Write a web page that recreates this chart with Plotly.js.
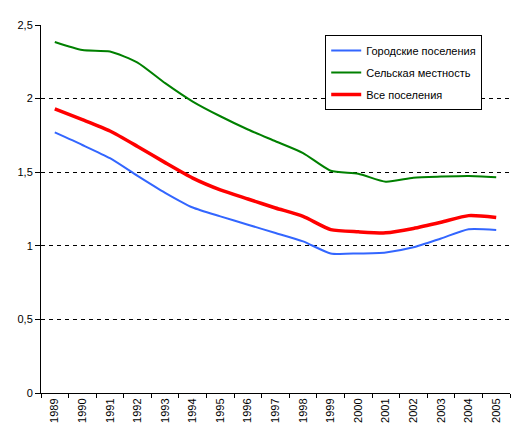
<!DOCTYPE html>
<html>
<head>
<meta charset="utf-8">
<script src="https://cdn.plot.ly/plotly-3.0.1.min.js"></script>
<style>html,body{margin:0;padding:0;background:#fff;}#chart{width:516px;height:432px;}</style>
</head>
<body>
<div id="chart"></div>
<script>
const years = ['1989','1990','1991','1992','1993','1994','1995','1996','1997','1998','1999','2000','2001','2002','2003','2004','2005'];
const urban = [1.77, 1.685, 1.595, 1.475, 1.36, 1.26, 1.20, 1.143, 1.087, 1.03, 0.948, 0.948, 0.955, 0.99, 1.05, 1.112, 1.107];
const rural = [2.385, 2.33, 2.32, 2.245, 2.105, 1.98, 1.88, 1.79, 1.71, 1.63, 1.51, 1.49, 1.435, 1.463, 1.47, 1.474, 1.465];
const total = [1.93, 1.857, 1.78, 1.675, 1.565, 1.46, 1.38, 1.318, 1.257, 1.20, 1.11, 1.095, 1.088, 1.118, 1.16, 1.205, 1.193];
const names = ['Городские поселения', 'Сельская местность', 'Все поселения'];

const traces = [
  {x: years, y: urban, name: names[0], type: 'scatter', mode: 'lines',
   line: {color: '#3366FF', width: 2, shape: 'spline', smoothing: 0.6}, legendgroup: 'a'},
  {x: years, y: rural, name: names[1], type: 'scatter', mode: 'lines',
   line: {color: '#008000', width: 2, shape: 'spline', smoothing: 0.6}, legendgroup: 'b'},
  {x: years, y: total, name: names[2], type: 'scatter', mode: 'lines',
   line: {color: '#FF0000', width: 3.5, shape: 'spline', smoothing: 0.6}, legendgroup: 'c'}
];

const layout = {
  width: 516, height: 432,
  margin: {l: 41, r: 6, t: 25, b: 39},
  paper_bgcolor: '#fff', plot_bgcolor: '#fff',
  separators: ',.',
  font: {family: 'Liberation Sans, Arial, sans-serif', size: 11, color: '#000'},
  showlegend: true,
  legend: {
    x: 0.606, xanchor: 'left', y: 0.973, yanchor: 'top',
    bordercolor: '#000', borderwidth: 1, bgcolor: '#fff',
    font: {size: 11}, itemwidth: 30, traceorder: 'grouped', tracegroupgap: 3
  },
  xaxis: {
    type: 'category', range: [-0.5, 16.5],
    showline: true, linecolor: '#000', linewidth: 1,
    ticks: 'outside', tickson: 'boundaries', ticklen: 4, tickcolor: '#000',
    tickangle: -90, showgrid: false, zeroline: false,
    tickfont: {size: 11}
  },
  yaxis: {
    range: [0, 2.5], dtick: 0.5, tick0: 0,
    showline: true, linecolor: '#000', linewidth: 1,
    ticks: 'outside', ticklen: 5, tickcolor: '#000',
    showgrid: true, gridcolor: '#000', gridwidth: 1, griddash: '4px,4px',
    zeroline: false, tickfont: {size: 11}
  }
};

Plotly.newPlot('chart', traces, layout, {staticPlot: true, displayModeBar: false});
</script>
</body>
</html>
